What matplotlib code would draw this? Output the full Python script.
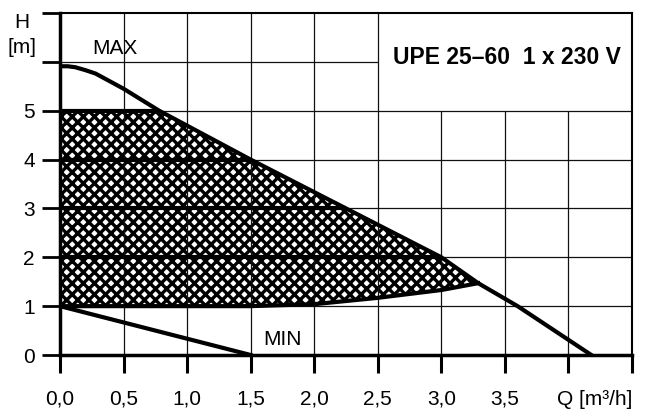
import numpy as np
import matplotlib.pyplot as plt
from matplotlib.patches import Polygon

plt.rcParams['font.family'] = ['Liberation Sans', 'DejaVu Sans']
plt.rcParams['hatch.linewidth'] = 2.4

# MAX curve (Q in m3/h, H in m)
max_q = [0.0, 0.06, 0.12, 0.2, 0.28, 0.5, 0.78, 1.5, 2.25, 3.0, 3.29, 3.6, 4.18]
max_h = [5.91, 5.91, 5.89, 5.83, 5.76, 5.45, 5.0, 4.0, 3.0, 2.0, 1.47, 1.0, 0.0]
# MIN curve
min_q = [0.0, 1.5]
min_h = [1.0, 0.0]
# lower limit of the control range
low_q = [0.0, 1.0, 1.5, 2.0, 2.5, 3.0, 3.29]
low_h = [1.0, 1.0, 1.0, 1.04, 1.17, 1.33, 1.47]
# constant pressure settings
levels = [2, 3, 4, 5]

x_ticks = [0.0, 0.5, 1.0, 1.5, 2.0, 2.5, 3.0, 3.5, 4.0, 4.5]
x_labels = ['0,0', '0,5', '1,0', '1,5', '2,0', '2,5', '3,0', '3,5', '', 'Q [m\u00b3/h]']
y_ticks = [0, 1, 2, 3, 4, 5, 6, 7]
y_labels = ['0', '1', '2', '3', '4', '5', '', '']

fig = plt.figure(figsize=(6.49, 4.11), dpi=100)
ax = fig.add_axes([60 / 649, 1 - 355 / 411, 572 / 649, 342 / 411])
ax.set_xlim(0, 4.5)
ax.set_ylim(0, 7)

# grid, leaving the title box empty
for q in x_ticks[1:-1]:
    top = 7 if q <= 2.5 else 5
    ax.vlines(q, 0, top, color='#111111', lw=0.9, zorder=2.5)
for h in y_ticks[1:-1]:
    right = 2.5 if h == 6 else 4.5
    ax.hlines(h, 0, right, color='#111111', lw=0.9, zorder=2.5)

# hatched control range
mq = np.array(max_q)
mh = np.array(max_h)
q5 = np.interp(5, mh[::-1], mq[::-1])
sel = (mh < 5) & (mq <= low_q[-1])
upper = np.column_stack([np.r_[0, q5, mq[sel]], np.r_[5, 5, mh[sel]]])
lower = np.column_stack([low_q[::-1], low_h[::-1]])
poly = Polygon(np.vstack([upper, lower]), closed=True, facecolor='white',
               edgecolor='black', hatch='xxx', lw=0, zorder=2)
ax.add_patch(poly)

for lv in levels:
    qe = np.interp(lv, mh[::-1], mq[::-1])
    ax.plot([0, qe], [lv, lv], color='black', lw=3, solid_capstyle='butt', zorder=3)
ax.plot(low_q, low_h, color='black', lw=3, zorder=3)
ax.plot(max_q, max_h, color='black', lw=3, zorder=3)
ax.plot(min_q, min_h, color='black', lw=3, zorder=3)

for side in ['left', 'bottom']:
    ax.spines[side].set_linewidth(2.5)
for side in ['top', 'right']:
    ax.spines[side].set_linewidth(1.5)

ax.set_xticks(x_ticks)
ax.set_xticklabels(x_labels)
ax.set_yticks(y_ticks)
ax.set_yticklabels(y_labels)
ax.tick_params(axis='x', direction='out', length=13, width=2.2, pad=12, labelsize=15)
ax.tick_params(axis='y', direction='out', length=13, width=2.0, pad=5, labelsize=15)
ax.get_xticklabels()[-1].set_ha('right')

ax.text(-0.30, 6.80, 'H', ha='center', va='center', fontsize=15, clip_on=False)
ax.text(-0.30, 6.30, '[m]', ha='center', va='center', fontsize=15, clip_on=False)
ax.text(0.43, 6.28, 'MAX', ha='center', va='center', fontsize=15)
ax.text(1.75, 0.32, 'MIN', ha='center', va='center', fontsize=15)
ax.text(3.52, 6.09, 'UPE 25\u201360  1 x 230 V', ha='center', va='center',
        fontsize=16.5, fontweight='bold')

fig.savefig('out.png', dpi=100)
